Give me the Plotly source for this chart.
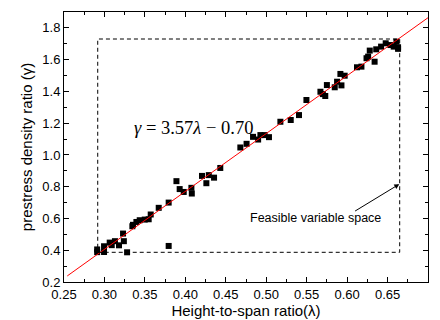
import plotly.graph_objects as go

# Data
lam = [0.291, 0.291, 0.2995, 0.2995, 0.3065, 0.309, 0.313, 0.318, 0.324, 0.323, 0.328,
       0.3345, 0.3353, 0.3395, 0.3436, 0.3498, 0.3547, 0.3572, 0.3671, 0.3794, 0.3794,
       0.389, 0.393, 0.398, 0.4075, 0.408, 0.4206, 0.426, 0.429, 0.4355, 0.4432,
       0.468, 0.4757, 0.4837, 0.490, 0.4928, 0.498, 0.5034, 0.5175, 0.5303, 0.5405,
       0.5497, 0.567, 0.570, 0.573, 0.575, 0.5847, 0.5876, 0.593, 0.5917, 0.597,
       0.6122, 0.6177, 0.624, 0.626, 0.628, 0.634, 0.636, 0.642, 0.6477, 0.6535,
       0.6576, 0.661, 0.663, 0.663]
gam = [0.405, 0.388, 0.425, 0.389, 0.448, 0.432, 0.457, 0.431, 0.457, 0.505, 0.387,
       0.551, 0.560, 0.578, 0.589, 0.593, 0.595, 0.625, 0.667, 0.700, 0.427,
       0.835, 0.785, 0.767, 0.793, 0.757, 0.868, 0.822, 0.873, 0.857, 0.918,
       1.047, 1.070, 1.114, 1.097, 1.125, 1.125, 1.112, 1.209, 1.220, 1.251,
       1.346, 1.398, 1.383, 1.371, 1.440, 1.426, 1.461, 1.438, 1.510, 1.499,
       1.552, 1.556, 1.609, 1.619, 1.657, 1.587, 1.665, 1.682, 1.703, 1.692,
       1.682, 1.713, 1.678, 1.668]

fit_x = [0.254, 0.70]
fit_y = [0.238, 1.864]

box_x = [0.2917, 0.665]
box_y = [0.387, 1.730]

x_ticks = [0.25, 0.30, 0.35, 0.40, 0.45, 0.50, 0.55, 0.60, 0.65, 0.70]
y_ticks = [0.2, 0.4, 0.6, 0.8, 1.0, 1.2, 1.4, 1.6, 1.8]

fig = go.Figure()
fig.add_trace(go.Scatter(x=lam, y=gam, mode="markers",
                         marker=dict(symbol="square", size=6, color="black"),
                         showlegend=False))
fig.add_trace(go.Scatter(x=fit_x, y=fit_y, mode="lines",
                         line=dict(color="red", width=1), showlegend=False))

fig.add_shape(type="rect", x0=box_x[0], x1=box_x[1], y0=box_y[0], y1=box_y[1],
              line=dict(color="black", width=1, dash="4px,3px"))

fig.add_annotation(x=0.41, y=1.169, text="<i>γ</i> = 3.57<i>λ</i> − 0.70", showarrow=False,
                   font=dict(family="Liberation Serif", size=18.5, color="black"))
fig.add_annotation(x=0.5605, y=0.602, text="Feasible variable space", showarrow=False,
                   font=dict(family="Liberation Sans", size=12.5, color="black"))
fig.add_annotation(x=0.6645, y=0.816, ax=0.608, ay=0.641, axref="x", ayref="y",
                   xref="x", yref="y", text="", showarrow=True,
                   arrowhead=2, arrowsize=1, arrowwidth=1, arrowcolor="black")

axis_common = dict(showline=True, linecolor="black", linewidth=1, mirror="allticks",
                   ticks="inside", ticklen=5, tickcolor="black", showgrid=False,
                   zeroline=False, automargin=False,
                   tickfont=dict(family="Liberation Sans", size=13, color="black"))

fig.update_xaxes(range=[0.25, 0.70], tickvals=x_ticks, tickformat=".2f",
                 minor=dict(ticks="inside", ticklen=3, dtick=0.025, tick0=0.25, tickcolor="black"),
                 title=dict(text="Height-to-span ratio(λ)", standoff=3,
                            font=dict(family="Liberation Sans", size=15, color="black")),
                 **axis_common)
fig.update_yaxes(range=[0.2, 1.9], tickvals=y_ticks, tickformat=".1f",
                 minor=dict(ticks="inside", ticklen=3, dtick=0.1, tick0=0.2, tickcolor="black"),
                 title=dict(text="prestress density ratio (γ)", standoff=6,
                            font=dict(family="Liberation Sans", size=15, color="black")),
                 **axis_common)

# page body adds an 8px offset, so the figure is 8px smaller on each side
fig.update_layout(width=432, height=312, margin=dict(l=56, r=12, t=4, b=38),
                  plot_bgcolor="white", paper_bgcolor="white")

fig.write_html("out.html")
